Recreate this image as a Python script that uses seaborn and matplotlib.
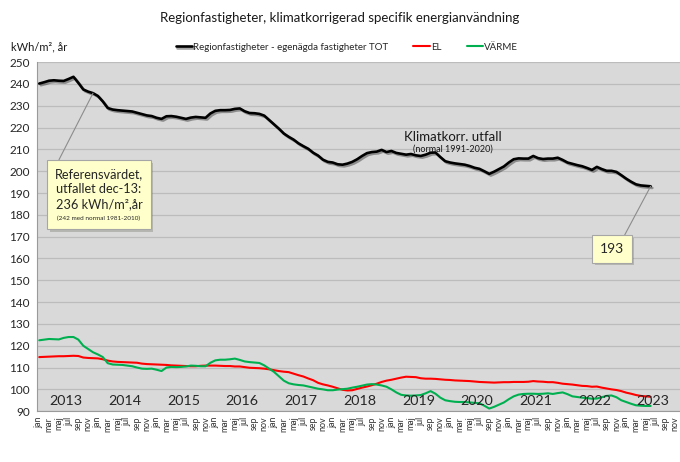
import numpy as np
import pandas as pd
import matplotlib
matplotlib.use("Agg")
import matplotlib.pyplot as plt
import matplotlib.patheffects as pe
from matplotlib.offsetbox import TextArea, VPacker, AnnotationBbox
import seaborn as sns

# Monthly values, jan 2013 - jun 2023 (kWh/m2, år, klimatkorrigerat)
tot = [240.2, 240.8, 241.5, 241.7, 241.5, 241.4, 242.3, 243.3, 240.5, 237.5,
       236.5, 235.8, 234.5, 232.0, 229.0, 228.3, 228.0, 227.8, 227.6, 227.4,
       226.8, 226.2, 225.6, 225.3, 224.5, 224.0, 225.2, 225.3, 225.0, 224.5,
       224.0, 224.6, 224.9, 224.7, 224.5, 226.5, 227.7, 228.0, 228.0, 228.1,
       228.6, 228.8, 227.5, 226.7, 226.6, 226.3, 225.5, 223.5, 221.5, 219.5,
       217.3, 215.8, 214.5, 212.8, 211.5, 210.3, 208.5, 207.2, 205.3, 204.3,
       204.0, 203.2, 203.0, 203.5, 204.3, 205.5, 207.0, 208.3, 208.8, 209.0,
       209.8, 208.8, 209.3, 208.4, 208.0, 207.6, 207.9, 207.3, 207.0, 207.6,
       208.5, 208.6, 206.5, 204.6, 204.0, 203.6, 203.3, 203.0, 202.4, 201.6,
       201.1, 200.0, 198.8, 199.8, 201.0, 202.2, 204.0, 205.5, 205.9, 205.8,
       205.8, 207.0, 206.0, 205.6, 205.8, 205.8, 206.2, 205.2, 204.0, 203.4,
       202.8, 202.3, 201.5, 200.6, 202.0, 201.0, 200.2, 200.2, 199.7, 198.2,
       196.6, 195.2, 194.0, 193.5, 193.3, 193.1]

el = [114.8, 114.9, 115.0, 115.1, 115.2, 115.2, 115.3, 115.4, 115.3, 114.6,
      114.4, 114.3, 114.2, 113.8, 113.2, 112.8, 112.6, 112.5, 112.4, 112.3,
      112.2, 111.8, 111.6, 111.5, 111.4, 111.3, 111.2, 111.0, 110.9, 110.8,
      110.7, 110.6, 110.6, 110.8, 110.9, 110.9, 110.9, 110.8, 110.7, 110.7,
      110.5, 110.5, 110.2, 109.9, 109.8, 109.7, 109.5, 109.2, 108.8, 108.4,
      108.1, 107.9, 107.2, 106.5, 105.9, 105.0, 104.2, 103.0, 102.3, 101.8,
      101.2, 100.5, 99.8, 99.5, 99.6, 100.2, 100.8, 101.3, 101.9, 102.6,
      103.4, 104.0, 104.4, 104.9, 105.4, 105.8, 105.7, 105.6, 105.1, 104.9,
      104.9, 104.8, 104.6, 104.4, 104.3, 104.1, 104.0, 103.9, 103.8, 103.6,
      103.4, 103.3, 103.2, 103.1, 103.2, 103.3, 103.3, 103.4, 103.4, 103.4,
      103.5, 103.8, 103.6, 103.5, 103.3, 103.3, 103.0, 102.6, 102.4, 102.2,
      101.9, 101.6, 101.5, 101.2, 101.3, 100.8, 100.4, 100.0, 99.7, 99.2,
      98.5, 98.0, 97.4, 97.0, 96.8, 96.6]

varme = [122.5, 122.8, 123.1, 123.0, 122.9, 123.6, 124.0, 124.0, 122.8, 120.0,
         118.5, 117.0, 116.0, 114.8, 112.0, 111.4, 111.3, 111.2, 110.9, 110.6,
         110.0, 109.5, 109.4, 109.5, 109.0, 108.4, 110.0, 110.3, 110.2, 110.3,
         110.5, 110.9, 110.8, 110.6, 110.6, 112.2, 113.3, 113.6, 113.6, 113.8,
         114.1, 113.5, 112.8, 112.5, 112.3, 112.1, 111.0, 109.5, 108.0, 106.0,
         104.0, 102.8, 102.3, 102.0, 101.8, 101.3, 100.8, 100.3, 100.0, 99.6,
         99.6, 99.9, 100.1, 100.3, 100.8, 101.2, 101.7, 102.2, 102.4, 102.2,
         101.8, 101.2, 100.0, 98.6, 97.5, 97.2, 97.1, 97.2, 97.4, 98.2,
         99.2, 98.0, 96.2, 95.0, 94.6, 94.3, 94.2, 94.2, 94.0, 93.8,
         93.6, 92.5, 91.2, 92.0, 93.0, 94.0, 95.5, 96.8, 97.6, 97.9,
         98.0, 98.0, 97.9, 98.0, 98.2, 97.9, 98.3, 98.6, 97.8, 96.8,
         96.5, 96.2, 96.0, 95.7, 95.8, 96.4, 97.0, 97.2, 96.4, 95.0,
         94.2, 93.4, 92.7, 92.5, 92.4, 92.4]

years = list(range(2013, 2024))
month_names = ["jan", "feb", "mar", "apr", "maj", "jun",
               "jul", "aug", "sep", "okt", "nov", "dec"]
ref_month = 11      # dec-13
ref_label = "Referensvärdet,\nutfallet dec-13:\n236 kWh/m²,år"
ref_note = "(242 med normal 1981-2010)"

df = pd.DataFrame({"m": np.arange(len(tot)), "tot": tot, "el": el, "varme": varme})

sns.set_style("white")
plt.rcParams["font.family"] = ["Lato", "DejaVu Sans"]

fig = plt.figure(figsize=(6.8, 4.62), dpi=100)
ax = fig.add_axes([0.0541, 0.110, 0.9459, 0.7554])
ax.set_facecolor("#d9d9d9")

sns.lineplot(data=df, x="m", y="tot", color="black", lw=1.9, ax=ax,
             label="Regionfastigheter - egenägda fastigheter TOT",
             path_effects=[pe.SimpleLineShadow(offset=(1.2, -1.2), alpha=0.35), pe.Normal()])
sns.lineplot(data=df, x="m", y="el", color="#ff0000", lw=1.5, ax=ax, label="EL")
sns.lineplot(data=df, x="m", y="varme", color="#00b050", lw=1.5, ax=ax, label="VÄRME")

ax.set_xlim(-0.5, 130.7)
ax.set_ylim(90, 250)
ax.set_yticks(range(90, 251, 10))
ax.yaxis.grid(True, color="#bcbcbc", lw=0.9)
ax.set_axisbelow(True)

n_months = 12 * len(years)
ax.set_xticks(range(0, n_months, 2))
ax.set_xticklabels([month_names[i % 12] for i in range(0, n_months, 2)],
                   rotation=90, fontsize=6.4, color="#333333")
ax.set_xticks(range(n_months), minor=True)
ax.tick_params(axis="x", which="both", length=2.5, color="#888888", pad=1.5)
ax.tick_params(axis="y", length=3, color="#888888", labelsize=8.5, pad=2)
ax.set_xlabel("")
ax.set_ylabel("")
for s in ["top", "right"]:
    ax.spines[s].set_visible(False)
for s in ["left", "bottom"]:
    ax.spines[s].set_color("#9a9a9a")
    ax.spines[s].set_linewidth(0.8)

# year labels inside the plot
for i, y in enumerate(years):
    ax.text(12 * i + 5.5, 0.03, str(y), transform=ax.get_xaxis_transform(),
            ha="center", va="center", fontsize=10.3, color="#262626")

# annotations
ax.text(84.5, 215.5, "Klimatkorr. utfall", ha="center", va="center", fontsize=9.5, color="#1a1a1a")
ax.text(84.5, 210.2, "(normal 1991-2020)", ha="center", va="center", fontsize=6.5, color="#1a1a1a")

box = dict(boxstyle="square,pad=0.45", fc="#ffffcc", ec="#a6a6a6", lw=0.8)
ref_box = VPacker(children=[
    TextArea(ref_label, textprops=dict(fontsize=9.2, ha="center", multialignment="center",
                                       linespacing=1.33)),
    TextArea(ref_note, textprops=dict(fontsize=4.6, ha="center")),
], align="center", pad=0, sep=4)
a1 = AnnotationBbox(ref_box, xy=(ref_month, tot[ref_month]), xybox=(12.2, 189.3),
                    xycoords="data", boxcoords="data", frameon=True,
                    bboxprops=dict(boxstyle="square,pad=0.55", fc="#ffffcc", ec="#a6a6a6", lw=0.8),
                    arrowprops=dict(arrowstyle="-", color="#8c8c8c", lw=0.8, relpos=(0.0, 1.0),
                                    shrinkA=0, shrinkB=0))
a1.patch.set_path_effects([pe.withSimplePatchShadow(offset=(2, -2), alpha=0.25)])
ax.add_artist(a1)

last = len(tot) - 1
a2 = ax.annotate(f"{tot[last]:.0f}", xy=(last, tot[last]), xytext=(117.1, 164.4),
                 ha="center", va="center", fontsize=10, bbox=dict(box, boxstyle="square,pad=0.55"),
                 arrowprops=dict(arrowstyle="-", color="#8c8c8c", lw=0.8, relpos=(0.85, 1.0),
                                 shrinkA=0, shrinkB=0))
a2.get_bbox_patch().set_path_effects([pe.withSimplePatchShadow(offset=(2, -2), alpha=0.25)])

handles, labels = ax.get_legend_handles_labels()
ax.get_legend().remove()
fig.legend(handles, labels, loc="center", bbox_to_anchor=(0.51, 0.898), ncol=3,
           frameon=False, fontsize=7, handlelength=1.7, handletextpad=0.1,
           columnspacing=2.6)

fig.text(0.5, 1 - 18 / 462, "Regionfastigheter, klimatkorrigerad specifik energianvändning",
         ha="center", va="center", fontsize=9.5, color="#1a1a1a")
fig.text(0.016, 1 - 47 / 462, "kWh/m², år", ha="left", va="center", fontsize=8, color="#1a1a1a")

fig.savefig("out.png", dpi=100)
